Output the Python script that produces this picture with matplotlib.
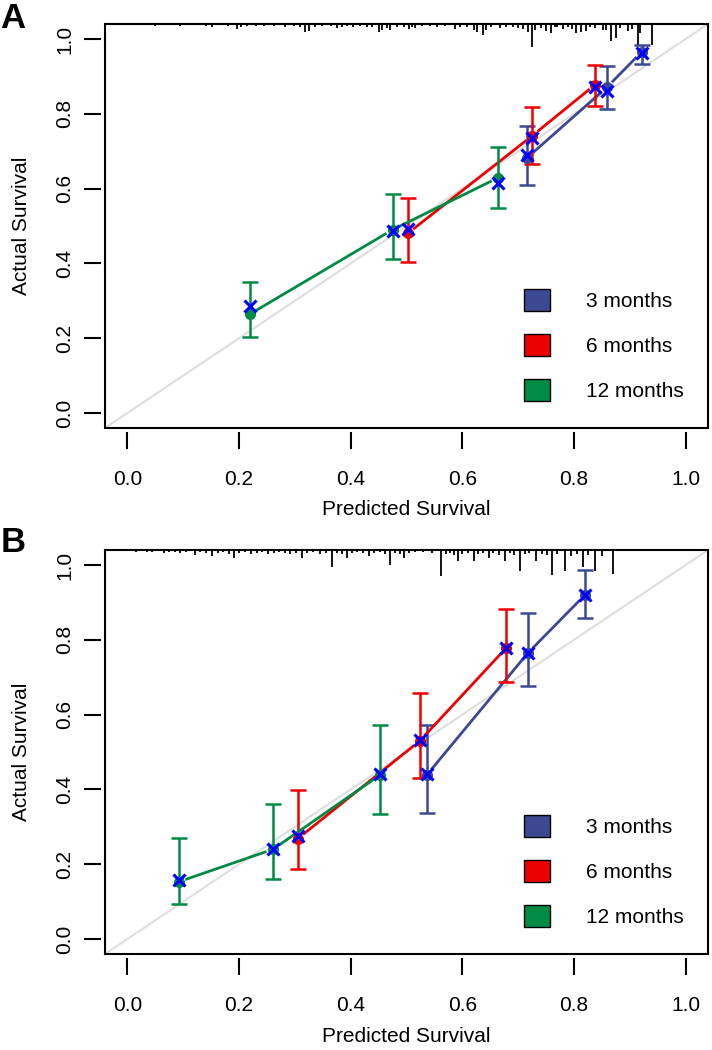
import numpy as np
import matplotlib
matplotlib.use('Agg')
import matplotlib.pyplot as plt
from matplotlib.patches import Patch, Rectangle

plt.rcParams['font.family'] = ['Liberation Sans', 'DejaVu Sans']

GROUPS = ['3 months', '6 months', '12 months']
COLORS = ['#3B4992', '#EE0000', '#008B45']
XMARK_COLOR = '#0000FF'
TICKS = [0.0, 0.2, 0.4, 0.6, 0.8, 1.0]

# panel A: predicted, observed (dots), bias-corrected (x), CI low/high; rows follow GROUPS
A_PRED = [[0.715, 0.859, 0.921], [0.502, 0.725, 0.838], [0.219, 0.475, 0.664]]
A_OBS = [[0.681, 0.871, 0.965], [0.480, 0.741, 0.878], [0.264, 0.490, 0.629]]
A_CORR = [[0.690, 0.860, 0.962], [0.492, 0.735, 0.871], [0.285, 0.487, 0.616]]
A_LO = [[0.609, 0.812, 0.932], [0.405, 0.666, 0.822], [0.202, 0.412, 0.548]]
A_HI = [[0.766, 0.927, 0.985], [0.575, 0.817, 0.930], [0.351, 0.585, 0.711]]

# panel B
B_PRED = [[0.536, 0.717, 0.819], [0.305, 0.524, 0.679], [0.092, 0.261, 0.452]]
B_OBS = [[0.438, 0.764, 0.919], [0.268, 0.530, 0.779], [0.153, 0.240, 0.438]]
B_CORR = [[0.441, 0.764, 0.919], [0.275, 0.532, 0.779], [0.158, 0.241, 0.441]]
B_LO = [[0.338, 0.676, 0.858], [0.186, 0.430, 0.686], [0.095, 0.160, 0.335]]
B_HI = [[0.572, 0.872, 0.986], [0.398, 0.659, 0.883], [0.270, 0.362, 0.573]]

# distribution of predicted values drawn as spikes at the top (position, relative count)
A_SPIKE_X = [0.005, 0.02, 0.035, 0.05, 0.065, 0.08, 0.095, 0.11, 0.125, 0.14, 0.151, 0.165,
             0.18, 0.196, 0.203, 0.214, 0.23, 0.245, 0.262, 0.283, 0.298, 0.31, 0.319, 0.325,
             0.337, 0.349, 0.364, 0.376, 0.384, 0.393, 0.405, 0.417, 0.429, 0.438, 0.45, 0.456,
             0.465, 0.471, 0.483, 0.495, 0.504, 0.51, 0.515, 0.527, 0.542, 0.554, 0.569, 0.587,
             0.596, 0.608, 0.62, 0.627, 0.637, 0.643, 0.652, 0.667, 0.679, 0.691, 0.70, 0.709,
             0.718, 0.725, 0.731, 0.74, 0.75, 0.758, 0.766, 0.77, 0.78, 0.789, 0.797, 0.803,
             0.813, 0.822, 0.829, 0.837, 0.852, 0.858, 0.867, 0.875, 0.882, 0.896, 0.904, 0.914,
             0.919, 0.94]
A_SPIKE_N = [1, 1, 1, 2, 1, 1, 2, 1, 1, 2, 3, 1,
             2, 5, 3, 2, 2, 2, 2, 3, 2, 3, 8, 7,
             3, 2, 2, 4, 3, 2, 3, 2, 3, 3, 8, 6,
             4, 6, 3, 3, 5, 3, 4, 2, 2, 3, 2, 5,
             3, 3, 6, 8, 10, 6, 3, 4, 3, 3, 4, 5,
             8, 22, 6, 4, 7, 9, 3, 3, 5, 3, 5, 9,
             8, 7, 3, 4, 6, 6, 16, 13, 4, 7, 5, 21,
             9, 20]
B_SPIKE_X = [0.005, 0.015, 0.025, 0.035, 0.045, 0.055, 0.065, 0.075, 0.085, 0.095, 0.105, 0.121,
             0.13, 0.14, 0.152, 0.162, 0.172, 0.182, 0.191, 0.2, 0.21, 0.222, 0.232, 0.242,
             0.252, 0.262, 0.272, 0.282, 0.292, 0.302, 0.312, 0.322, 0.332, 0.345, 0.355, 0.366,
             0.375, 0.385, 0.393, 0.402, 0.412, 0.422, 0.432, 0.442, 0.452, 0.462, 0.47, 0.48,
             0.488, 0.495, 0.505, 0.515, 0.53, 0.545, 0.561, 0.57, 0.578, 0.585, 0.593, 0.60,
             0.61, 0.62, 0.628, 0.637, 0.648, 0.655, 0.665, 0.676, 0.685, 0.693, 0.703, 0.712,
             0.72, 0.732, 0.742, 0.752, 0.76, 0.77, 0.784, 0.795, 0.805, 0.816, 0.825, 0.837,
             0.85, 0.87]
B_SPIKE_N = [1, 2, 1, 2, 2, 1, 3, 2, 2, 3, 2, 5,
             2, 3, 6, 3, 2, 4, 8, 3, 2, 4, 3, 2,
             4, 3, 2, 3, 4, 3, 8, 3, 2, 4, 3, 16,
             3, 4, 8, 3, 2, 3, 6, 3, 2, 4, 14, 3,
             4, 8, 3, 2, 2, 3, 25, 4, 3, 5, 10, 4,
             3, 10, 4, 3, 8, 3, 5, 10, 3, 5, 20, 4,
             3, 10, 4, 5, 24, 4, 20, 6, 4, 16, 5, 20,
             6, 23]

LIM = (-0.04, 1.04)
FS = 15
W, H = 712, 1050
BOX_L, BOX_R = 105, 708
BOX_H = 404


def gapped_line(ax, xs, ys, color, gap_px=7):
    # R type="b": segments stop short of the points
    pts = ax.transData.transform(np.column_stack([xs, ys]))
    inv = ax.transData.inverted()
    for p, q in zip(pts[:-1], pts[1:]):
        d = q - p
        L = np.hypot(d[0], d[1])
        if L <= 2 * gap_px:
            continue
        u = d / L
        seg = inv.transform(np.array([p + u * gap_px, q - u * gap_px]))
        ax.plot(seg[:, 0], seg[:, 1], color=color, lw=2, solid_capstyle='butt', zorder=3)


def calib_panel(ax, pred, obs, corr, lo, hi, spike_x, spike_n):
    ax.set_xlim(LIM)
    ax.set_ylim(LIM)
    ax.plot(LIM, LIM, color='#DEDEDE', lw=1.5, zorder=1)

    unit = (LIM[1] - LIM[0]) / BOX_H
    sx = np.array(spike_x)
    sn = np.array(spike_n)
    ax.vlines(sx, LIM[1] - sn * unit * 1.05, LIM[1], color='black', lw=1.3, zorder=2)

    for i, c in enumerate(COLORS):
        x = np.array(pred[i])
        y = np.array(obs[i])
        yerr = [y - np.array(lo[i]), np.array(hi[i]) - y]
        ax.errorbar(x, y, yerr=yerr, fmt='none', ecolor=c, elinewidth=1.8,
                    capsize=6, capthick=1.8, zorder=3)
        gapped_line(ax, x, y, c)
        ax.plot(x, y, 'o', color=c, ms=7, mec=c, zorder=4)
        ax.plot(x, corr[i], 'x', color=XMARK_COLOR, ms=9, mew=2.2, zorder=5)

    for s in ax.spines.values():
        s.set_position(('outward', 3))
        s.set_visible(False)
    ax.add_patch(Rectangle((0, 0), 1, 1, transform=ax.transAxes, fill=False,
                           lw=1.5, ec='black', clip_on=False, zorder=6))
    ax.set_xticks(TICKS)
    ax.set_yticks(TICKS)
    ax.set_xticklabels(['%.1f' % t for t in TICKS])
    ax.set_yticklabels(['%.1f' % t for t in TICKS], rotation=90, va='center')
    ax.tick_params(direction='out', length=12, width=1.5, labelsize=FS)
    ax.tick_params(axis='x', pad=15)
    ax.tick_params(axis='y', pad=7)

    ax.text((22 - BOX_L) / (BOX_R - BOX_L), 0.5, 'Actual Survival', transform=ax.transAxes,
            rotation=90, ha='center', va='center', fontsize=FS)
    ax.text(0.5, -82 / BOX_H, 'Predicted Survival', transform=ax.transAxes,
            ha='center', va='center', fontsize=FS)

    handles = [Patch(facecolor=c, edgecolor='black', lw=1) for c in COLORS]
    ax.legend(handles, GROUPS, loc='upper left', bbox_to_anchor=(0.695, 1 - 265 / BOX_H),
              frameon=False, fontsize=FS, handlelength=1.25, handleheight=1.25,
              handletextpad=1.7, labelspacing=1.1, borderpad=0, borderaxespad=0)


def box_rect(top):
    return [BOX_L / W, 1 - (top + BOX_H) / H, (BOX_R - BOX_L) / W, BOX_H / H]


fig = plt.figure(figsize=(W / 100, H / 100), dpi=100)
ax_a = fig.add_axes(box_rect(24))
ax_b = fig.add_axes(box_rect(550))

calib_panel(ax_a, A_PRED, A_OBS, A_CORR, A_LO, A_HI, A_SPIKE_X, A_SPIKE_N)
calib_panel(ax_b, B_PRED, B_OBS, B_CORR, B_LO, B_HI, B_SPIKE_X, B_SPIKE_N)

fig.text(13 / W, 1 - 18 / H, 'A', fontsize=25, fontweight='bold', ha='center', va='center')
fig.text(13 / W, 1 - 543 / H, 'B', fontsize=25, fontweight='bold', ha='center', va='center')

fig.savefig('out.png', dpi=100)
